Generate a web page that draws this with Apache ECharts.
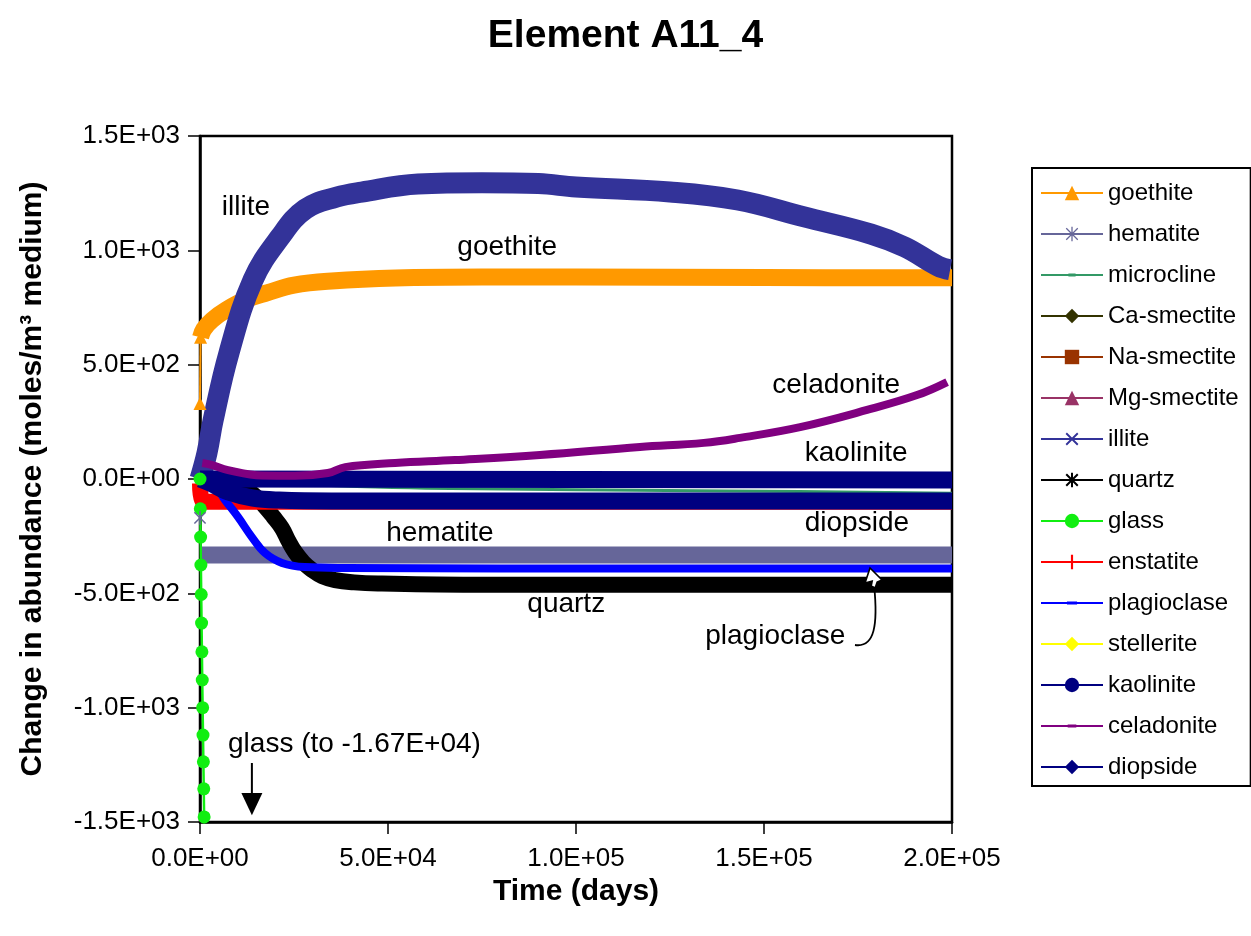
<!DOCTYPE html>
<html><head><meta charset="utf-8">
<script src="https://cdn.jsdelivr.net/npm/echarts@6/dist/echarts.min.js"></script>
<style>html,body{margin:0;padding:0;background:#fff}#c{width:1251px;height:936px}</style>
</head><body><div id="c"></div>
<script>
// ---------------- data (time in days, change in moles/m3 medium) ----------------
const seriesNames = ['goethite','hematite','microcline','Ca-smectite','Na-smectite','Mg-smectite','illite','quartz','glass','enstatite','plagioclase','stellerite','kaolinite','celadonite','diopside'];
const xTickLabels = ['0.0E+00','5.0E+04','1.0E+05','1.5E+05','2.0E+05'];
const yTickLabels = ['-1.5E+03','-1.0E+03','-5.0E+02','0.0E+00','5.0E+02','1.0E+03','1.5E+03'];

const goethite = [[0,330],[150,620],[1000,655],[3200,695],[7000,740],[12000,783],[18000,815],[25000,848],[35000,866],[52000,879],[75000,883],[100000,883],[150000,881],[200000,880]];
const hematite = [[0,-170],[300,-332],[200000,-332]];
const microcline = [[0,0],[20000,-20],[60000,-40],[140000,-52],[200000,-62]];
const caSmectite = [[0,0],[200000,0]];
const naSmectite = [[0,0],[200000,0]];
const mgSmectite = [[0,0],[200000,0]];
const illite = [[0,0],[1860,114],[3500,258],[7700,551],[14100,870],[21300,1058],[28000,1180],[36400,1233],[43000,1255],[58000,1290],[75000,1296],[90000,1292],[100000,1277],[125000,1255],[143000,1220],[160700,1146],[178500,1071],[187500,1014],[196300,931],[199500,915]];
const quartz = [[0,0],[5000,-5],[10000,-28],[14000,-65],[17000,-115],[19500,-165],[21800,-215],[23500,-270],[25300,-320],[27500,-365],[29800,-398],[32500,-425],[35900,-442],[41000,-452],[47300,-457],[70000,-462],[200000,-463]];
const glass = [[0,0],[80,-130],[160,-254],[240,-376],[330,-505],[420,-630],[510,-756],[600,-879],[700,-1000],[800,-1120],[900,-1237],[1000,-1355],[1100,-1478],[1300,-16700]];
const enstatite = [[0,-20],[800,-100],[200000,-100]];
const plagioclase = [[0,0],[3000,-10],[6650,-92],[10100,-166],[13800,-254],[17300,-324],[21800,-367],[27900,-385],[38600,-389],[80000,-391],[200000,-391]];
const stellerite = [[0,0],[200000,0]];
const kaolinite = [[0,0],[200000,-4]];
const celadonite = [[600,70],[3000,62],[7450,39],[16500,15],[25300,14],[34000,26],[38600,52],[51900,70],[67800,83],[90400,105],[117000,140],[134000,158],[143600,180],[159600,227],[177400,302],[190700,367],[198700,424]];
const diopside = [[0,0],[3000,-20],[7500,-57],[14000,-83],[21000,-92],[35000,-96],[200000,-96]];

// annotation labels, anchored in data coordinates
const annotations = [
  {text:'illite', t:5800, v:1189, align:'left'},
  {text:'goethite', t:81700, v:1014, align:'center'},
  {text:'celadonite', t:169200, v:411, align:'center'},
  {text:'kaolinite', t:174500, v:114, align:'center'},
  {text:'diopside', t:174700, v:-192, align:'center'},
  {text:'hematite', t:63800, v:-236, align:'center'},
  {text:'quartz', t:97400, v:-547, align:'center'},
  {text:'plagioclase', t:153000, v:-686, align:'center'},
  {text:'glass (to -1.67E+04)', t:7450, v:-1160, align:'left'}
];
const glassArrow = {t:13800, vTop:-1242, vBase:-1373, vTip:-1470};
const plagArrow = [[174200,-726],[179500,-739],[180300,-634],[179300,-468],[178200,-389]];

// ---------------- styling ----------------
const FONT = '"Liberation Sans", Arial, Helvetica, sans-serif';
const DOTS = 'M0,0h0.01v0.01h-0.01z M19.99,19.99h0.01v0.01h-0.01z ';
function diag(w){
  const h = w/2*0.7071;
  return `M${2+h},${2-h}L${18+h},${18-h}L${18-h},${18+h}L${2-h},${2+h}Z M${18-h},${2-h}L${18+h},${2+h}L${2+h},${18+h}L${2-h},${18-h}Z `;
}
function asterisk(w){ return 'path://' + DOTS + `M${10-w/2},0h${w}v20h${-w}Z ` + diag(w); }
const symX = 'path://' + DOTS + diag(2.6);
const symPlus = 'path://' + DOTS + 'M8.5,0h3v20h-3Z';
const rectSym = (x0,wd) => 'path://' + DOTS + `M${x0},8h${wd}v4h${-wd}Z`;

const styleMap = {
  'goethite':   {color:'#ff9900', width:17, symbol:'triangle', data: goethite.slice(1)},
  'hematite':   {color:'#666699', width:17, symbol:asterisk(1.8), data: hematite.slice(1)},
  'microcline': {color:'#339966', width:3, symbol:rectSym(5,10), data: microcline},
  'Ca-smectite':{color:'#333300', width:10, symbol:'diamond', data: caSmectite},
  'Na-smectite':{color:'#993300', width:10, symbol:'rect', data: naSmectite},
  'Mg-smectite':{color:'#993366', width:10, symbol:'triangle', data: mgSmectite},
  'illite':     {color:'#333399', width:21, symbol:symX, data: illite},
  'quartz':     {color:'#000000', width:16, symbol:asterisk(2.8), data: quartz},
  'glass':      {color:'#11ee11', width:2.5, symbol:'circle', data: glass},
  'enstatite':  {color:'#ff0000', width:16, symbol:symPlus, data: enstatite},
  'plagioclase':{color:'#0000ff', width:8, symbol:rectSym(3,14), data: plagioclase},
  'stellerite': {color:'#ffff00', width:10, symbol:'diamond', data: stellerite},
  'kaolinite':  {color:'#000080', width:17, symbol:'circle', data: kaolinite},
  'celadonite': {color:'#800080', width:8, symbol:rectSym(4,12), data: celadonite},
  'diopside':   {color:'#000080', width:17, symbol:'diamond', data: diopside}
};

const series = seriesNames.map(name => {
  const s = styleMap[name];
  const o = {
    name, type:'line', data:s.data, symbol:s.symbol, showSymbol:false,
    smooth: name === 'glass' ? false : 0.4,
    lineStyle:{color:s.color, width:s.width, join:'round'}, itemStyle:{color:s.color, borderWidth:0},
    emphasis:{disabled:true}, silent:true, clip:true
  };
  if (name === 'glass') { o.showSymbol = true; o.symbolSize = 13; }
  if (name === 'goethite') {
    o.markLine = {silent:true, symbol:'none', label:{show:false}, lineStyle:{color:s.color, width:2, type:'solid'},
      data:[[{coord:goethite[0]},{coord:goethite[1]}]]};
    o.markPoint = {silent:true, symbol:'triangle', symbolSize:13, label:{show:false}, itemStyle:{color:s.color},
      data:[{coord:goethite[0]},{coord:goethite[1]}]};
  }
  if (name === 'hematite') {
    o.markPoint = {silent:true, symbol:asterisk(2.2), symbolSize:14, label:{show:false}, itemStyle:{color:s.color},
      data:[{coord:hematite[0]}]};
  }
  return o;
});

const chart = echarts.init(document.getElementById('c'), null, {renderer:'canvas'});
const axisCommon = {
  axisLine:{show:true, onZero:false, lineStyle:{color:'#000', width:2.5}},
  axisTick:{show:true, length:12, lineStyle:{color:'#000', width:1.5}},
  splitLine:{show:false},
};
chart.setOption({
  animation:false,
  backgroundColor:'#fff',
  title:{text:'Element A11_4', left:'center', top:12,
    textStyle:{fontFamily:FONT, fontSize:39, fontWeight:'bold', color:'#000'}},
  grid:{left:200, right:299, top:136, bottom:114, show:true, borderColor:'#000', borderWidth:2.5, backgroundColor:'transparent'},
  legend:{
    orient:'vertical', left:1032, top:168, itemWidth:62, itemHeight:18, itemGap:17,
    padding:[13,12,7,8], borderColor:'#000', borderWidth:2, selectedMode:false,
    textStyle:{fontFamily:FONT, fontSize:24, color:'#000'},
    lineStyle:{width:2}, itemStyle:{borderWidth:0},
    data: seriesNames
  },
  xAxis:Object.assign({type:'value', min:0, max:200000, interval:50000,
    name:'Time (days)', nameLocation:'middle', nameGap:52,
    nameTextStyle:{fontFamily:FONT, fontSize:30, fontWeight:'bold', color:'#000'},
    axisLabel:{margin:24, fontFamily:FONT, fontSize:26, color:'#000', formatter:(v,i)=>xTickLabels[i]}}, axisCommon),
  yAxis:Object.assign({type:'value', min:-1500, max:1500, interval:500,
    name:'Change in abundance (moles/m³ medium)', nameLocation:'middle', nameGap:152,
    nameTextStyle:{fontFamily:FONT, fontSize:30, fontWeight:'bold', color:'#000'},
    axisLabel:{margin:20, fontFamily:FONT, fontSize:26, color:'#000', formatter:(v,i)=>yTickLabels[i]}}, axisCommon),
  series
});

// ---------------- annotations ----------------
const px = p => chart.convertToPixel({gridIndex:0}, p);
const graphics = annotations.map(a => {
  const p = px([a.t, a.v]);
  return {type:'text', x:p[0], y:p[1], z:100, silent:true,
    style:{text:a.text, fontFamily:FONT, fontSize:28, fill:'#000', align:a.align, verticalAlign:'middle'}};
});
const ga = px([glassArrow.t, glassArrow.vTop]), gb = px([glassArrow.t, glassArrow.vBase]), gt = px([glassArrow.t, glassArrow.vTip]);
graphics.push({type:'line', z:100, silent:true, shape:{x1:ga[0], y1:ga[1], x2:gb[0], y2:gb[1]+1}, style:{stroke:'#000', lineWidth:2}});
graphics.push({type:'polygon', z:100, silent:true, shape:{points:[[gb[0]-10.5, gb[1]],[gb[0]+10.5, gb[1]],[gt[0], gt[1]]]}, style:{fill:'#000'}});
const pa = plagArrow.map(px);
graphics.push({type:'bezierCurve', z:100, silent:true,
  shape:{x1:pa[0][0], y1:pa[0][1], cpx1:pa[1][0], cpy1:pa[1][1], cpx2:pa[2][0], cpy2:pa[2][1], x2:pa[3][0], y2:pa[3][1]},
  style:{stroke:'#000', lineWidth:1.8, fill:null}});
const tip = pa[4], base = pa[3];
graphics.push({type:'polygon', z:101, silent:true,
  shape:{points:[[tip[0], tip[1]],[tip[0]+12, tip[1]+12],[base[0]+3, base[1]-4],[base[0]+1, base[1]+2],[base[0]-3, base[1]],[base[0]-2, base[1]-5],[tip[0]-5, tip[1]+15]]},
  style:{fill:'#fff', stroke:'#000', lineWidth:1.6}});
chart.setOption({graphic:graphics});
</script></body></html>
